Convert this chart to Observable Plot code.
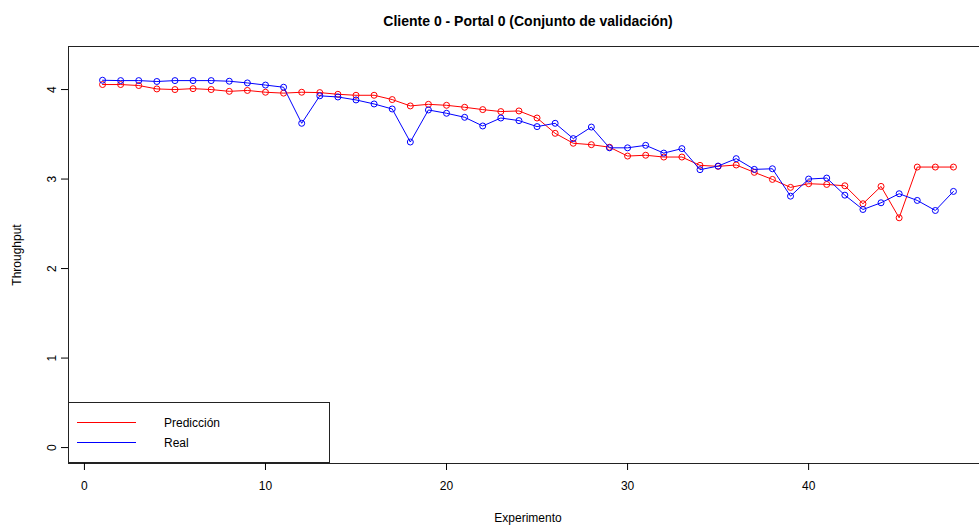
<!DOCTYPE html>
<html>
<head>
<meta charset="utf-8">
<script src="https://cdn.jsdelivr.net/npm/d3@7"></script>
<script src="https://cdn.jsdelivr.net/npm/@observablehq/plot@0.6"></script>
<style>
  html, body { margin: 0; padding: 0; background: #fff; overflow: hidden; }
  #chart svg { overflow: hidden; }
</style>
</head>
<body>
<div id="chart"></div>
<script>
const titulo = "Cliente 0 - Portal 0 (Conjunto de validación)";
const experimento = [1,2,3,4,5,6,7,8,9,10,11,12,13,14,15,16,17,18,19,20,21,22,23,24,25,26,27,28,29,30,31,32,33,34,35,36,37,38,39,40,41,42,43,44,45,46,47,48];
const prediccion = [4.056,4.056,4.045,4.007,4.0,4.01,4.0,3.98,3.99,3.97,
  3.96,3.97,3.966,3.947,3.936,3.936,3.888,3.817,3.835,3.824,
  3.802,3.776,3.754,3.761,3.682,3.511,3.40,3.384,3.356,3.257,
  3.266,3.246,3.246,3.153,3.142,3.157,3.075,2.996,2.907,2.948,
  2.94,2.925,2.724,2.918,2.567,3.134,3.134,3.134];
const real = [4.104,4.10,4.10,4.09,4.10,4.10,4.10,4.093,4.074,4.05,
  4.026,3.623,3.93,3.917,3.884,3.839,3.783,3.414,3.772,3.735,
  3.69,3.593,3.682,3.653,3.586,3.623,3.452,3.581,3.349,3.349,
  3.377,3.29,3.34,3.105,3.145,3.228,3.108,3.115,2.809,3.0,
  3.011,2.82,2.66,2.735,2.836,2.761,2.649,2.862];
const xTicks = [0,10,20,30,40];
const yTicks = [0,1,2,3,4];
const series = ["Predicción","Real"];
const colores = ["#FF0000","#0000FF"];

const predData = experimento.map((x,i)=>({x, y: prediccion[i]}));
const realData = experimento.map((x,i)=>({x, y: real[i]}));

const font = "'Liberation Sans', Arial, sans-serif";

const chart = Plot.plot({
  width: 979,
  height: 529,
  marginLeft: 68,
  marginRight: -8,
  marginTop: 46,
  marginBottom: 66,
  style: {fontFamily: font, fontSize: "12px", color: "#000", background: "#fff"},
  x: {domain: [-0.88, 49.88]},
  y: {domain: [-0.178, 4.481]},
  marks: [
    Plot.frame({stroke: "#222", strokeWidth: 1}),
    Plot.axisX({ticks: xTicks, tickFormat: d => String(d), tickSize: 7, tickPadding: 11, fontSize: 12, label: "Experimento", labelAnchor: "center", labelArrow: "none", labelOffset: 58}),
    Plot.axisY({ticks: yTicks, tickFormat: d => String(d), tickSize: 7, tickPadding: 6, tickRotate: -90, fontSize: 12, label: "Throughput", labelAnchor: "center", labelArrow: "none", labelOffset: 56}),
    Plot.line(predData, {x: "x", y: "y", stroke: colores[0], strokeWidth: 1}),
    Plot.dot(predData, {x: "x", y: "y", stroke: colores[0], r: 3, strokeWidth: 1}),
    Plot.line(realData, {x: "x", y: "y", stroke: colores[1], strokeWidth: 1}),
    Plot.dot(realData, {x: "x", y: "y", stroke: colores[1], r: 3, strokeWidth: 1}),
    Plot.text([titulo], {frameAnchor: "top", dy: -30, fontSize: 14, fontWeight: "bold", fill: "#000"})
  ]
});

// Legend (bottom-left, R style box)
const svg = d3.select(chart);
const lg = svg.append("g").attr("font-family", font).attr("font-size", 12).attr("text-anchor", "start");
lg.append("rect").attr("x", 68.5).attr("y", 402.5).attr("width", 261).attr("height", 60)
  .attr("fill", "#fff").attr("stroke", "#222");
series.forEach((s, i) => {
  const yy = 422.5 + i * 20;
  lg.append("line").attr("x1", 77).attr("x2", 136).attr("y1", yy).attr("y2", yy)
    .attr("stroke", colores[i]).attr("stroke-width", 1);
  lg.append("text").attr("x", 164).attr("y", yy).attr("dy", "0.35em").attr("fill", "#000").text(s);
});

document.getElementById("chart").append(chart);
</script>
</body>
</html>
